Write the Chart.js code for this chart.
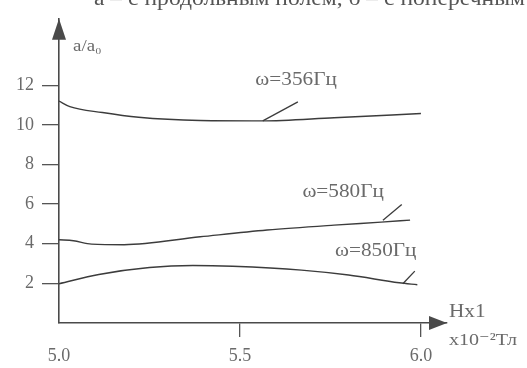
<!DOCTYPE html>
<html>
<head>
<meta charset="utf-8">
<script src="https://cdn.jsdelivr.net/npm/chart.js@4"></script>
<style>
  html, body { margin: 0; padding: 0; background: #fff; }
  canvas { display: block; }
</style>
</head>
<body>
<canvas id="chart" width="527" height="368"></canvas>
<script>
// values (H in 10^-2 T, a/a0)
var H356 = [5.0, 5.03, 5.12, 5.22, 5.39, 5.56, 5.76, 6.0];
var A356 = [11.2, 10.92, 10.62, 10.38, 10.22, 10.2, 10.36, 10.57];

var H580 = [5.0, 5.04, 5.09, 5.18, 5.39, 5.575, 5.76, 5.89, 5.97];
var A580 = [4.2, 4.15, 3.98, 3.95, 4.35, 4.69, 4.94, 5.09, 5.19];

var H850 = [5.0, 5.11, 5.25, 5.37, 5.48, 5.67, 5.80, 5.94, 5.99];
var A850 = [1.98, 2.45, 2.8, 2.9, 2.86, 2.67, 2.42, 2.03, 1.93];

var xTicks = [5.0, 5.5, 6.0];
var yTicks = [2, 4, 6, 8, 10, 12];

// curve captions with their leader lines (data units)
var notes = [
  { text: "ω=356Гц", x: 5.655, y: 12.25, from: [5.563, 10.2], to: [5.66, 11.16] },
  { text: "ω=580Гц", x: 5.785, y: 6.6, from: [5.895, 5.19], to: [5.947, 5.98] },
  { text: "ω=850Гц", x: 5.875, y: 3.6, from: [5.95, 1.98], to: [5.983, 2.62] }
];

var lineColor = "#3c3c3c";
var textColor = "#6a6a6a";
var serif = "'Liberation Serif', 'DejaVu Serif', serif";

function pts(xs, ys) {
  return xs.map(function(x, i) { return { x: x, y: ys[i] }; });
}

function series(xs, ys) {
  return {
    data: pts(xs, ys),
    borderColor: lineColor,
    borderWidth: 1.4,
    pointRadius: 0,
    tension: 0.4,
    cubicInterpolationMode: "monotone",
    fill: false
  };
}

// the scan is stretched sideways, so text gets a horizontal scale
function wideText(ctx, text, x, y, align, size, color, baseline) {
  ctx.save();
  ctx.font = size + "px " + serif;
  ctx.fillStyle = color || textColor;
  ctx.textBaseline = baseline || "middle";
  var w = ctx.measureText(text).width * 1.18;
  var left = align === "center" ? x - w / 2 : x;
  ctx.translate(left, y);
  ctx.scale(1.18, 1);
  ctx.textAlign = "left";
  ctx.fillText(text, 0, 0);
  ctx.restore();
}

var extras = {
  id: "extras",
  afterDraw: function(chart) {
    var ctx = chart.ctx, xs = chart.scales.x, ys = chart.scales.y, a = chart.chartArea;

    // arrows on the axes
    ctx.save();
    ctx.fillStyle = "#4a4a4a";
    ctx.beginPath();
    ctx.moveTo(a.left, a.top);
    ctx.lineTo(a.left - 7, a.top + 21);
    ctx.lineTo(a.left + 7, a.top + 21);
    ctx.closePath();
    ctx.fill();
    ctx.beginPath();
    ctx.moveTo(a.right, a.bottom);
    ctx.lineTo(a.right - 18, a.bottom - 7);
    ctx.lineTo(a.right - 18, a.bottom + 7);
    ctx.closePath();
    ctx.fill();
    ctx.restore();

    // leader lines and captions
    ctx.save();
    ctx.strokeStyle = lineColor;
    ctx.lineWidth = 1.3;
    notes.forEach(function(n) {
      ctx.beginPath();
      ctx.moveTo(xs.getPixelForValue(n.from[0]), ys.getPixelForValue(n.from[1]));
      ctx.lineTo(xs.getPixelForValue(n.to[0]), ys.getPixelForValue(n.to[1]));
      ctx.stroke();
      wideText(ctx, n.text, xs.getPixelForValue(n.x), ys.getPixelForValue(n.y), "center", 18);
    });
    ctx.restore();

    // axis titles
    wideText(ctx, "a/a₀", a.left + 14, 47, "left", 16);
    wideText(ctx, "Hx1", a.right + 2, 312, "left", 18);
    wideText(ctx, "х10⁻²Тл", a.right + 2, 341, "left", 17);

    // cut-off caption line at the top of the scan
    wideText(ctx, "а – с продольным полем, б – с поперечным", 94, 5, "left", 20, "#555", "alphabetic");
  }
};

var tickFont = { family: serif, size: 18 };

new Chart(document.getElementById("chart"), {
  type: "line",
  data: {
    datasets: [series(H356, A356), series(H580, A580), series(H850, A850)]
  },
  options: {
    responsive: false,
    animation: false,
    devicePixelRatio: 1,
    layout: { padding: { top: 12, right: 80, left: 0, bottom: 0 } },
    plugins: { legend: { display: false }, tooltip: { enabled: false } },
    scales: {
      x: {
        type: "linear",
        min: 5.0,
        max: 6.072,
        afterBuildTicks: function(s) { s.ticks = xTicks.map(function(v) { return { value: v }; }); },
        afterFit: function(s) { s.height = 45; },
        ticks: {
          autoSkip: false, maxRotation: 0, padding: 8,
          color: textColor, font: tickFont,
          callback: function(v) { return Number(v).toFixed(1); }
        },
        grid: {
          drawOnChartArea: false, tickLength: 14, lineWidth: 1.3,
          color: function(c) { return c.tick && c.tick.value === 5 ? "rgba(0,0,0,0)" : "#555"; }
        },
        border: { color: "#4a4a4a", width: 1.6 }
      },
      y: {
        min: 0,
        max: 15.35,
        afterBuildTicks: function(s) { s.ticks = yTicks.map(function(v) { return { value: v }; }); },
        afterFit: function(s) { s.width = 59; },
        ticks: {
          autoSkip: false, padding: 8,
          color: textColor, font: tickFont,
          callback: function(v) { return String(v); }
        },
        grid: { drawOnChartArea: false, tickLength: 17, lineWidth: 1.3, color: "#555" },
        border: { color: "#4a4a4a", width: 1.6 }
      }
    }
  },
  plugins: [extras]
});
</script>
</body>
</html>
